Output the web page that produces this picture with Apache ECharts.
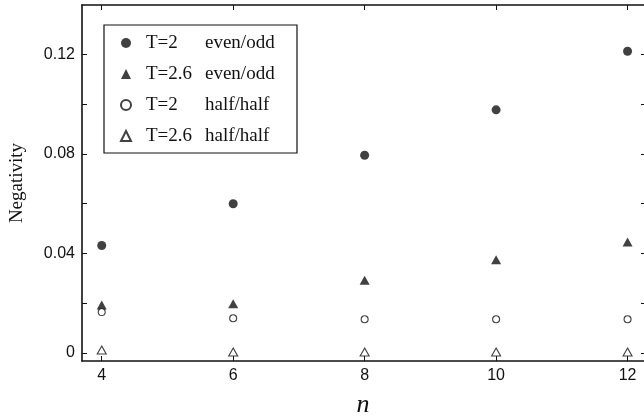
<!DOCTYPE html>
<html>
<head>
<meta charset="utf-8">
<script src="https://cdn.jsdelivr.net/npm/echarts@6/dist/echarts.min.js"></script>
<style>html,body{margin:0;padding:0;background:#fff}#c{width:644px;height:417px}</style>
</head>
<body>
<div id="c"></div>
<script>
var nValues = [4, 6, 8, 10, 12];
var t2EvenOdd = [0.0432, 0.0600, 0.0795, 0.0978, 0.1214];
var t26EvenOdd = [0.0192, 0.0197, 0.0292, 0.0375, 0.0446];
var t2HalfHalf = [0.0164, 0.0139, 0.0135, 0.0135, 0.0135];
var t26HalfHalf = [0.0011, 0.0003, 0.0003, 0.0003, 0.0003];
var xTicks = [4, 6, 8, 10, 12];
var yTicks = [0, 0.02, 0.04, 0.06, 0.08, 0.10, 0.12];
var yLabels = [0, 0.04, 0.08, 0.12];
var seriesNames = ['T=2 even/odd', 'T=2.6 even/odd', 'T=2 half/half', 'T=2.6 half/half'];

function pts(arr) { return nValues.map(function (n, i) { return [n, arr[i]]; }); }

var ink = '#111';
var axisCommon = {
  axisLine: { show: true, onZero: false, lineStyle: { color: ink, width: 1.6 } },
  axisTick: { show: true, inside: true, length: 5, lineStyle: { color: ink, width: 1 } },
  splitLine: { show: false }
};

var chart = echarts.init(document.getElementById('c'), null, { renderer: 'canvas' });
chart.setOption({
  backgroundColor: '#fff',
  animation: false,
  grid: { left: 82, right: 0, top: 5, bottom: 56, containLabel: false, outerBoundsMode: 'none' },
  xAxis: [
    Object.assign({}, axisCommon, {
      type: 'value', min: 3.7, max: 12.25, position: 'bottom',
      axisTick: Object.assign({}, axisCommon.axisTick, { customValues: xTicks }),
      axisLabel: { customValues: xTicks, color: ink, fontFamily: 'Liberation Sans', fontSize: 16, margin: 7 },
      name: 'n', nameLocation: 'middle', nameGap: 31,
      nameTextStyle: { fontFamily: 'Liberation Serif', fontStyle: 'italic', fontSize: 26, color: ink }
    }),
    Object.assign({}, axisCommon, {
      type: 'value', min: 3.7, max: 12.25, position: 'top',
      axisTick: Object.assign({}, axisCommon.axisTick, { customValues: xTicks }),
      axisLabel: { show: false }
    })
  ],
  yAxis: [
    Object.assign({}, axisCommon, {
      type: 'value', min: -0.0033, max: 0.14, position: 'left',
      axisTick: Object.assign({}, axisCommon.axisTick, { customValues: yTicks }),
      axisLabel: { customValues: yLabels, color: ink, fontFamily: 'Liberation Sans', fontSize: 16, margin: 7 },
      name: 'Negativity', nameLocation: 'middle', nameGap: 55, nameRotate: 90,
      nameTextStyle: { fontFamily: 'Liberation Serif', fontSize: 19, color: ink }
    }),
    Object.assign({}, axisCommon, {
      type: 'value', min: -0.0033, max: 0.14, position: 'right',
      axisLine: { show: false },
      axisTick: { show: true, inside: true, length: 3, customValues: yTicks, lineStyle: { color: ink, width: 1 } },
      axisLabel: { show: false }
    })
  ],
  legend: {
    orient: 'vertical',
    left: 104, top: 25,
    padding: [8, 17, 7, 16],
    itemWidth: 10, itemHeight: 10, itemGap: 11,
    borderColor: ink, borderWidth: 1.2, backgroundColor: '#fff',
    selectedMode: false,
    data: seriesNames,
    formatter: function (name) {
      var p = name.split(' ');
      return '{a|' + p[0] + '}{b|' + p[1] + '}';
    },
    textStyle: {
      color: ink, fontFamily: 'Liberation Serif', fontSize: 19, lineHeight: 20,
      rich: {
        a: { width: 59, padding: [0, 0, 0, 10], fontFamily: 'Liberation Serif', fontSize: 19, color: ink, lineHeight: 20 },
        b: { width: 75, fontFamily: 'Liberation Serif', fontSize: 19, color: ink, lineHeight: 20 }
      }
    }
  },
  series: [
    { name: seriesNames[0], type: 'scatter', data: pts(t2EvenOdd), symbol: 'circle', symbolSize: 9,
      itemStyle: { color: ink } },
    { name: seriesNames[1], type: 'scatter', data: pts(t26EvenOdd), symbol: 'triangle', symbolSize: [10, 9],
      itemStyle: { color: ink } },
    { name: seriesNames[2], type: 'scatter', data: pts(t2HalfHalf), symbol: 'circle', symbolSize: 7,
      itemStyle: { color: '#fff', borderColor: ink, borderWidth: 1.1 } },
    { name: seriesNames[3], type: 'scatter', data: pts(t26HalfHalf), symbol: 'triangle', symbolSize: [9, 8],
      itemStyle: { color: '#fff', borderColor: ink, borderWidth: 1.1 } }
  ]
});
</script>
</body>
</html>
